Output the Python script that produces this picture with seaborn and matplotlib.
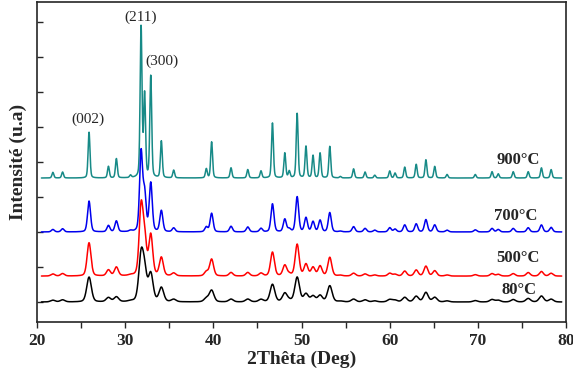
import matplotlib
matplotlib.use("Agg")
import matplotlib.pyplot as plt
from matplotlib.ticker import MultipleLocator
import seaborn as sns
import pandas as pd
import numpy as np

# Peak table (2-theta positions in degrees)
peak_pos = [21.8, 22.9, 25.9, 28.1, 29.0, 30.6, 31.8, 32.2, 32.9, 34.1, 35.5, 39.2, 39.8,
            42.0, 43.9, 45.4, 46.7, 48.1, 48.6, 49.5, 50.5, 51.3, 52.1, 53.2, 54.4, 55.9,
            57.2, 58.3, 60.0, 60.6, 61.7, 63.0, 64.1, 65.1, 66.5, 69.7, 71.6, 72.3, 74.0,
            75.7, 77.2, 78.3]

# Peak heights per sample (arbitrary units)
h_900 = [0.16, 0.17, 1.31, 0.33, 0.55, 0.07, 4.30, 2.35, 2.90, 1.05, 0.22, 0.26, 1.03,
         0.29, 0.24, 0.20, 1.57, 0.71, 0.19, 1.84, 0.90, 0.64, 0.71, 0.90, 0.04, 0.26,
         0.17, 0.08, 0.20, 0.14, 0.31, 0.39, 0.52, 0.33, 0.10, 0.10, 0.18, 0.12, 0.18,
         0.18, 0.29, 0.24]
h_700 = [0.07, 0.09, 0.88, 0.18, 0.31, 0.03, 2.25, 1.05, 1.38, 0.60, 0.11, 0.14, 0.53,
         0.16, 0.14, 0.10, 0.80, 0.36, 0.08, 1.00, 0.40, 0.29, 0.33, 0.55, 0.02, 0.15,
         0.10, 0.05, 0.12, 0.08, 0.20, 0.23, 0.35, 0.20, 0.05, 0.06, 0.10, 0.07, 0.10,
         0.12, 0.20, 0.13]
h_500 = [0.06, 0.07, 0.95, 0.17, 0.25, 0.02, 1.90, 1.00, 1.15, 0.52, 0.08, 0.12, 0.48,
         0.10, 0.10, 0.08, 0.68, 0.30, 0.05, 0.90, 0.33, 0.24, 0.28, 0.53, 0.02, 0.08,
         0.06, 0.03, 0.08, 0.05, 0.14, 0.17, 0.28, 0.15, 0.03, 0.04, 0.07, 0.05, 0.07,
         0.10, 0.13, 0.08]
h_80 = [0.05, 0.06, 0.71, 0.12, 0.14, 0.02, 1.25, 0.75, 0.78, 0.40, 0.07, 0.10, 0.33,
        0.08, 0.08, 0.07, 0.50, 0.24, 0.04, 0.70, 0.22, 0.16, 0.18, 0.46, 0.02, 0.08,
        0.06, 0.03, 0.07, 0.05, 0.13, 0.16, 0.27, 0.13, 0.03, 0.04, 0.07, 0.05, 0.07,
        0.10, 0.17, 0.08]

samples = ["900°C", "700°C", "500°C", "80°C"]
heights = {"900°C": h_900, "700°C": h_700, "500°C": h_500, "80°C": h_80}
fwhm = {"900°C": 0.25, "700°C": 0.40, "500°C": 0.52, "80°C": 0.62}
offsets = {"900°C": 3.54, "700°C": 2.00, "500°C": 0.74, "80°C": 0.00}
colors = {"900°C": "#178a87", "700°C": "#0000ee", "500°C": "#ff0000", "80°C": "#000000"}

label_pos = {"900°C": (74.6, 4.06), "700°C": (74.25, 2.46), "500°C": (74.5, 1.26), "80°C": (74.7, 0.34)}
hkl_labels = ["(002)", "(211)", "(300)"]
hkl_pos = [(25.8, 5.23), (31.8, 8.14), (34.2, 6.86)]


def pseudo_voigt(x, center, height, width, eta=0.3):
    g = np.exp(-4 * np.log(2) * ((x - center) / width) ** 2)
    l = 1 / (1 + 4 * ((x - center) / width) ** 2)
    return height * (eta * l + (1 - eta) * g)


two_theta = np.linspace(20.5, 79.5, 3000)
frames = []
for s in samples:
    y = np.zeros_like(two_theta)
    for c, h in zip(peak_pos, heights[s]):
        y += pseudo_voigt(two_theta, c, h, fwhm[s])
    frames.append(pd.DataFrame({"two_theta": two_theta, "intensity": y + offsets[s], "sample": s}))
df = pd.concat(frames, ignore_index=True)

sns.set_style("ticks")
plt.rcParams["font.family"] = ["Liberation Serif", "DejaVu Serif"]

fig = plt.figure(figsize=(5.73, 3.68), dpi=100)
ax = fig.add_axes([0.0646, 0.125, 0.9234, 0.870])

sns.lineplot(data=df, x="two_theta", y="intensity", hue="sample", hue_order=samples,
             palette=colors, estimator=None, linewidth=1.1, legend=False, ax=ax)

for s in samples:
    ax.text(*label_pos[s], s, ha="center", va="center", fontsize=12, fontweight="bold")
for t, (x, y) in zip(hkl_labels, hkl_pos):
    ax.text(x, y, t, ha="center", va="center", fontsize=11)

ax.set_xlim(20, 80)
ax.set_ylim(-0.57, 8.57)
ax.xaxis.set_major_locator(MultipleLocator(10))
ax.xaxis.set_minor_locator(MultipleLocator(5))
ax.set_yticks(range(0, 9))
ax.set_yticklabels([])
ax.tick_params(axis="x", which="both", direction="out", length=4.5, width=1, labelsize=12.5)
ax.tick_params(axis="y", direction="in", length=4.5, width=1)
for lab in ax.get_xticklabels():
    lab.set_fontweight("bold")
for sp in ax.spines.values():
    sp.set_visible(True)
    sp.set_linewidth(1.2)

ax.set_xlabel("2Thêta (Deg)", fontsize=14, fontweight="bold", labelpad=1)
ax.set_ylabel("Intensité (u.a)", fontsize=14, fontweight="bold", labelpad=4)

fig.savefig("out.png", dpi=100)
